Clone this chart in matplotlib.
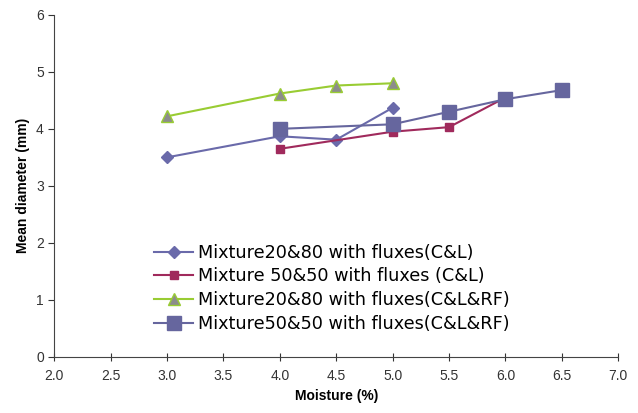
import matplotlib
matplotlib.use('Agg')
from matplotlib import pyplot as plt

# данные
x_c_l_2080 = [3.0, 4.0, 4.5, 5.0]
y_c_l_2080 = [3.50, 3.87, 3.81, 4.37]

x_c_l_5050 = [4.0, 5.0, 5.5, 6.0]
y_c_l_5050 = [3.65, 3.95, 4.03, 4.55]

x_rf_2080 = [3.0, 4.0, 4.5, 5.0]
y_rf_2080 = [4.22, 4.62, 4.76, 4.80]

x_rf_5050 = [4.0, 5.0, 5.5, 6.0, 6.5]
y_rf_5050 = [4.00, 4.08, 4.30, 4.52, 4.68]

labels = ['Mixture20&80 with fluxes(C&L)',
          'Mixture 50&50 with fluxes (C&L)',
          'Mixture20&80 with fluxes(C&L&RF)',
          'Mixture50&50 with fluxes(C&L&RF)']

plt.rcParams['font.family'] = ['Liberation Sans', 'DejaVu Sans']

fig = plt.figure(figsize=(6.38, 4.13), dpi=100)
ax = fig.add_axes([0.085, 0.136, 0.884, 0.828])

ax.plot(x_c_l_2080, y_c_l_2080, color='#6a6aaa', marker='D', markersize=6, lw=1.5, label=labels[0])
ax.plot(x_c_l_5050, y_c_l_5050, color='#a02a5c', marker='s', markersize=6, lw=1.5, label=labels[1])
ax.plot(x_rf_2080, y_rf_2080, color='#99cc33', marker='^', markersize=8,
        markerfacecolor='#8c8c8c', markeredgecolor='#99cc33', lw=1.5, label=labels[2])
ax.plot(x_rf_5050, y_rf_5050, color='#66669e', marker='s', markersize=10, lw=1.5, label=labels[3])

ax.set_xlim(2.0, 7.0)
ax.set_ylim(0, 6)
ax.set_xticks([2.0, 2.5, 3.0, 3.5, 4.0, 4.5, 5.0, 5.5, 6.0, 6.5, 7.0])
ax.set_xticklabels(['2.0', '2.5', '3.0', '3.5', '4.0', '4.5', '5.0', '5.5', '6.0', '6.5', '7.0'])
ax.set_yticks(range(0, 7))
ax.tick_params(labelsize=10, colors='#333333')
ax.tick_params(axis='x', direction='inout', length=6, pad=6)
ax.tick_params(axis='y', direction='out', length=4)
ax.spines['top'].set_visible(False)
ax.spines['right'].set_visible(False)
ax.spines['left'].set_color('#444444')
ax.spines['bottom'].set_color('#444444')

ax.set_xlabel('Moisture (%)', fontsize=10, fontweight='bold')
ax.set_ylabel('Mean diameter (mm)', fontsize=10, fontweight='bold')

ax.legend(loc='lower left', bbox_to_anchor=(0.165, 0.05), frameon=False,
          prop={'family': 'DejaVu Sans', 'size': 12.7},
          handlelength=2.2, labelspacing=0.32, borderaxespad=0, handletextpad=0.25)

fig.savefig('out.png', dpi=100)
